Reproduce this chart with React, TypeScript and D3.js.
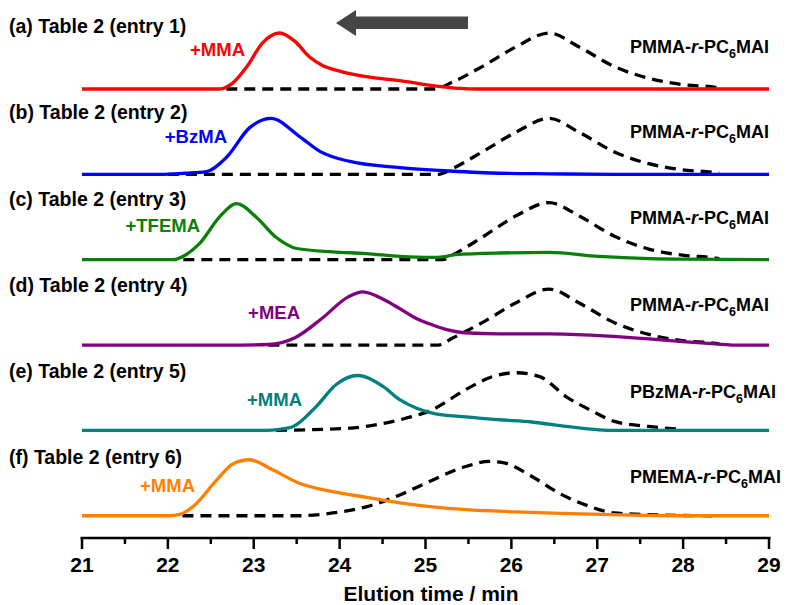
import React from "react";
import * as d3 from "d3";

const W = 792;
const H = 605;

const xTicks = [21, 22, 23, 24, 25, 26, 27, 28, 29];
const xMinorTicks = [21.5, 22.5, 23.5, 24.5, 25.5, 26.5, 27.5, 28.5];

const panelTitles = [
  "(a) Table 2 (entry 1)",
  "(b) Table 2 (entry 2)",
  "(c) Table 2 (entry 3)",
  "(d) Table 2 (entry 4)",
  "(e) Table 2 (entry 5)",
  "(f) Table 2 (entry 6)",
];
const monomerLabels = ["+MMA", "+BzMA", "+TFEMA", "+MEA", "+MMA", "+MMA"];
const macroPrefix = ["PMMA", "PMMA", "PMMA", "PMMA", "PBzMA", "PMEMA"];
const colors = ["#ff0000", "#0000ff", "#0a800a", "#800080", "#008080", "#ff8000"];

// colored traces (normalized intensity)
const redT = [21, 22.6, 22.75, 22.92, 23.1, 23.3, 23.48, 23.65, 23.8, 24.0, 24.31, 24.7, 25.08, 25.4, 25.6, 29];
const redV = [0, 0, 0.1, 0.4, 0.82, 1.0, 0.85, 0.57, 0.42, 0.32, 0.22, 0.15, 0.06, 0.01, 0, 0];
const blueT = [21, 21.9, 22.2, 22.45, 22.68, 22.95, 23.2, 23.53, 23.77, 24.12, 24.7, 25.28, 25.86, 26.44, 27.2, 29];
const blueV = [0, 0, 0.02, 0.05, 0.3, 0.83, 1.0, 0.68, 0.41, 0.23, 0.12, 0.06, 0.02, 0.01, 0, 0];
const greenT = [21, 22.06, 22.2, 22.37, 22.6, 22.8, 23.03, 23.26, 23.5, 23.92, 24.31, 24.7, 25.08, 25.2, 25.35, 25.86, 26.44, 27.02, 27.6, 28.0, 29];
const greenV = [0, 0, 0.08, 0.29, 0.76, 1.0, 0.76, 0.4, 0.2, 0.14, 0.11, 0.06, 0.04, 0.05, 0.09, 0.12, 0.13, 0.06, 0.02, 0.01, 0];
const purpleT = [21, 22.7, 23.17, 23.48, 23.79, 24.1, 24.27, 24.53, 24.7, 24.9, 25.08, 25.26, 25.45, 25.86, 26.44, 27.02, 27.6, 27.99, 28.38, 28.6, 29];
const purpleV = [0, 0, 0.01, 0.13, 0.47, 0.86, 0.95, 0.8, 0.65, 0.47, 0.36, 0.27, 0.22, 0.2, 0.2, 0.17, 0.11, 0.06, 0.02, 0, 0];
const tealT = [21, 23.15, 23.3, 23.46, 23.73, 23.96, 24.21, 24.5, 24.7, 24.89, 25.08, 25.47, 25.86, 26.24, 26.64, 27.02, 27.2, 29];
const tealV = [0, 0, 0.02, 0.07, 0.43, 0.82, 0.98, 0.79, 0.55, 0.4, 0.31, 0.24, 0.19, 0.15, 0.07, 0.01, 0, 0];
const orangeT = [21, 22.0, 22.15, 22.29, 22.57, 22.76, 22.95, 23.22, 23.53, 23.92, 24.31, 24.7, 25.08, 25.47, 26.05, 26.64, 27.41, 28, 29];
const orangeV = [0, 0, 0.03, 0.16, 0.64, 0.93, 1.0, 0.82, 0.58, 0.43, 0.33, 0.23, 0.16, 0.11, 0.07, 0.04, 0.01, 0, 0];

// dashed macro-CTA traces
const dashAT = [22.68, 25.1, 25.31, 25.66, 26.05, 26.44, 26.79, 27.2, 27.6, 27.99, 28.38, 28.42];
const dashAV = [0, 0, 0.12, 0.4, 0.75, 1.0, 0.75, 0.4, 0.19, 0.08, 0.03, 0.02];
const dashBT = [22.0, 25.15, 25.31, 25.66, 26.05, 26.44, 26.79, 27.2, 27.6, 27.99, 28.38, 28.42];
const dashBV = [0, 0, 0.1, 0.4, 0.75, 1.0, 0.75, 0.4, 0.19, 0.08, 0.03, 0.02];
const dashCT = [22.18, 25.2, 25.31, 25.66, 26.05, 26.44, 26.79, 27.2, 27.6, 27.99, 28.38, 28.42];
const dashCV = [0, 0, 0.08, 0.4, 0.78, 1.02, 0.78, 0.42, 0.19, 0.08, 0.03, 0.02];
const dashDT = [23.17, 25.15, 25.31, 25.66, 26.05, 26.44, 26.79, 27.2, 27.6, 27.99, 28.38, 28.42];
const dashDV = [0, 0, 0.12, 0.4, 0.75, 1.0, 0.75, 0.4, 0.19, 0.08, 0.03, 0.02];
const dashET = [23.26, 23.6, 24.12, 24.7, 25.08, 25.47, 25.78, 26.05, 26.33, 26.64, 26.95, 27.2, 27.6, 27.99];
const dashEV = [0, 0.01, 0.04, 0.19, 0.37, 0.73, 0.96, 1.03, 0.96, 0.6, 0.34, 0.16, 0.07, 0.02];
const dashFT = [22.17, 23.53, 23.92, 24.31, 24.7, 25.0, 25.47, 25.74, 25.9, 26.24, 26.56, 26.87, 27.2, 27.8, 28.38];
const dashFV = [0, 0, 0.05, 0.16, 0.37, 0.58, 0.88, 0.97, 0.95, 0.7, 0.4, 0.19, 0.05, 0.01, 0];

const solidT = [redT, blueT, greenT, purpleT, tealT, orangeT];
const solidV = [redV, blueV, greenV, purpleV, tealV, orangeV];
const dashT = [dashAT, dashBT, dashCT, dashDT, dashET, dashFT];
const dashV = [dashAV, dashBV, dashCV, dashDV, dashEV, dashFV];

const FONT = "'Liberation Sans', Arial, sans-serif";

export default function App() {
  const x = d3.scaleLinear().domain([21, 29]).range([82, 769]);
  const axisY = 538;
  const firstBase = 89;
  const step = 85.35;
  const unit = 56;

  const panelScale = (i: number) =>
    d3.scaleLinear().domain([0, 1]).range([firstBase + i * step, firstBase + i * step - unit]);

  const mkLine = (ys: d3.ScaleLinear<number, number>) =>
    d3
      .line<[number, number]>()
      .x((d) => x(d[0]))
      .y((d) => ys(d[1]))
      .curve(d3.curveMonotoneX);

  const titleY = [33, 119, 206, 292, 378, 464];
  const monoX = [245, 227, 200, 300, 302, 195];
  const monoY = [56, 143, 232, 319, 406, 492];
  const macroY = [53, 138, 224, 311, 398, 483];

  return (
    <svg
      width={W}
      height={H}
      style={{ position: "absolute", left: 0, top: 0, background: "#fff" }}
      fontFamily={FONT}
      fontWeight="bold"
    >
      {/* arrow */}
      <path d="M336,23 L356,10 L356,16.5 L468,16.5 L468,29 L356,29 L356,36 Z" fill="#454545" />

      {panelTitles.map((_, i) => {
        const ys = panelScale(i);
        const line = mkLine(ys);
        const dPts = dashT[i].map((t, k) => [t, dashV[i][k]] as [number, number]);
        const sPts = solidT[i].map((t, k) => [t, solidV[i][k]] as [number, number]);
        return (
          <g key={i}>
            <path d={line(dPts) || ""} fill="none" stroke="#000" strokeWidth={3.3} strokeDasharray="11,7" />
            <path d={line(sPts) || ""} fill="none" stroke={colors[i]} strokeWidth={3.3} strokeLinejoin="round" />
            <text x={9} y={titleY[i]} fontSize={19.5} fill="#000">
              {panelTitles[i]}
            </text>
            <text x={monoX[i]} y={monoY[i]} fontSize={18.5} fill={colors[i]} textAnchor="end">
              {monomerLabels[i]}
            </text>
            <text x={630} y={macroY[i]} fontSize={18} fill="#000">
              {macroPrefix[i]}-<tspan fontStyle="italic">r</tspan>-PC
              <tspan fontSize={12.5} dy={4.5}>6</tspan>
              <tspan dy={-4.5}>MAI</tspan>
            </text>
          </g>
        );
      })}

      {/* x axis */}
      <line x1={x(21) - 1.5} x2={x(29) + 1.5} y1={axisY} y2={axisY} stroke="#000" strokeWidth={2.5} />
      {xTicks.map((t) => (
        <g key={t}>
          <line x1={x(t)} x2={x(t)} y1={axisY} y2={axisY + 11} stroke="#000" strokeWidth={2.5} />
          <text x={x(t)} y={572} fontSize={21} textAnchor="middle" fill="#000">
            {t}
          </text>
        </g>
      ))}
      {xMinorTicks.map((t) => (
        <line key={t} x1={x(t)} x2={x(t)} y1={axisY} y2={axisY + 6} stroke="#000" strokeWidth={2.5} />
      ))}
      <text x={431} y={601} fontSize={21} textAnchor="middle" fill="#000">
        Elution time / min
      </text>
    </svg>
  );
}
